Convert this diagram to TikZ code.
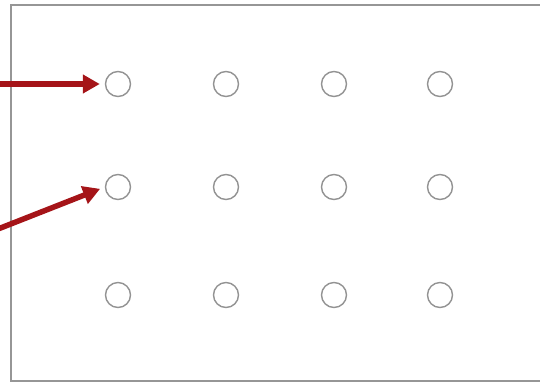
\documentclass[tikz,border=0pt]{standalone}
\usepackage{tikz}
\usetikzlibrary{positioning, arrows.meta}
\definecolor{arrowred}{RGB}{165,20,24}
\definecolor{framegray}{RGB}{150,150,150}

\begin{document}
\begin{tikzpicture}[x=1pt, y=-1pt,
    hole/.style={circle, draw=gray!85, line width=1.4pt, minimum size=25pt, inner sep=0pt},
    pointer/.style={-{Triangle[length=17pt, width=18pt]}, line width=5.5pt, draw=arrowred, shorten >=5pt}]
        \useasboundingbox (0,0) rectangle (540,383);
        % Plate frame (open to the right)
        \draw[framegray, line width=1.6pt] (541,5) -- (11,5) -- (11,381) -- (541,381);
        % Grid of holes, 3 rows x 4 columns
        \foreach \r/\y in {1/84, 2/187, 3/295} {
          \foreach \c/\x in {1/118, 2/226, 3/334, 4/440} {
            \node[hole] (h\r\c) at (\x,\y) {};
          }
        }
        % Pointers coming in from the left
        \coordinate (in1) at (-2,84);
        \coordinate (in2) at (-2,229);
        \draw[pointer] (in1) -- (h11.west);
        \draw[pointer] (in2) -- (h21.west);
      \end{tikzpicture}
\end{document}
